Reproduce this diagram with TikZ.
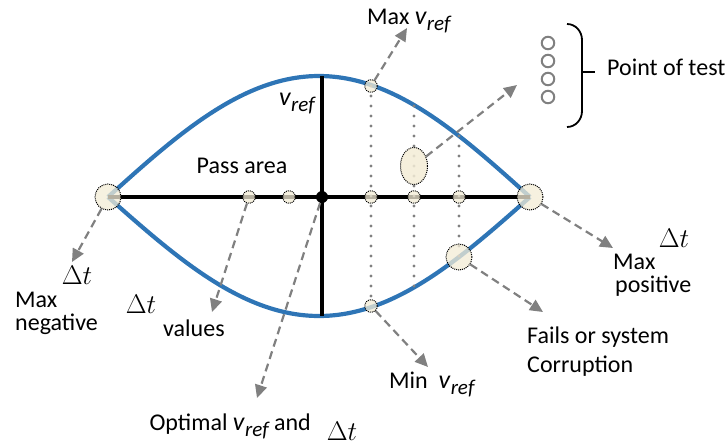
\RequirePackage{fix-cm}
\documentclass[tikz,border=0pt]{standalone}
\usepackage{fontspec}
\setmainfont{Carlito}
\usetikzlibrary{arrows.meta,shapes.geometric}
\definecolor{curveblue}{HTML}{2E75B6}
\definecolor{cream}{HTML}{F3ECD6}
\definecolor{arrgray}{HTML}{808080}
\definecolor{dotgray}{HTML}{808080}
\newcommand\myvref{{\fontsize{26}{28}\selectfont\itshape v}\kern0.5pt{\fontsize{21}{24}\selectfont\itshape\raisebox{-6pt}{ref}}}
\newcommand\mydt{{\fontsize{27}{30}\selectfont$\Delta t$}}
\begin{document}
\begin{tikzpicture}[x=1pt,y=-1pt,
  curve/.style={draw=curveblue,line width=4.2pt},
  axisline/.style={draw=black,line width=3.2pt},
  dots/.style={draw=dotgray,line width=3.2pt,dash pattern=on 0pt off 10pt,line cap=round},
  garrow/.style={draw=arrgray,line width=2.2pt,dash pattern=on 8pt off 5pt,-{Triangle[length=13pt,width=12pt,fill=arrgray]}},
  testpt/.style={circle,draw=black,densely dotted,line width=1pt,fill=cream,fill opacity=0.75,inner sep=0pt},
  smallpt/.style={testpt,minimum size=12.5pt},
  bigpt/.style={testpt,minimum size=26pt},
  ell/.style={ellipse,draw=black,densely dotted,line width=1pt,fill=cream,fill opacity=0.85,inner sep=0pt,minimum width=27pt,minimum height=37pt},
  legendpt/.style={circle,draw=arrgray,line width=2pt,minimum size=12.5pt,inner sep=0pt},
  lbl/.style={font=\fontsize{24}{28}\selectfont,inner sep=0pt},
  lbltwo/.style={font=\fontsize{24}{23}\selectfont,inner sep=0pt,align=left}
]
\useasboundingbox (0,0) rectangle (727,447);

% lens curves
\draw[curve] plot[domain=108:530,samples=100,smooth] (\x,{197-121*sin((\x-108)/422*180)});
\draw[curve] plot[domain=108:530,samples=100,smooth] (\x,{197+119*sin((\x-108)/422*180)});

% axes
\coordinate (hl) at (108,197);
\coordinate (hr) at (530,197);
\coordinate (vt) at (322,76);
\coordinate (vb) at (322,316);
\draw[axisline] (hl) -- (hr);
\draw[axisline] (vt) -- (vb);

% dotted verticals
\coordinate (t1) at (371,86);
\coordinate (b1) at (371,306);
\coordinate (t2) at (414,106);
\coordinate (b2) at (414,288);
\coordinate (t3) at (459,136);
\coordinate (b3) at (459,257);
\draw[dots] (t1) -- (b1);
\draw[dots] (t2) -- (b2);
\draw[dots] (t3) -- (b3);

% test points
\node[bigpt] (L) at (108,197) {};
\node[bigpt] (R) at (530,197) {};
\node[smallpt] (a1) at (249,197) {};
\node[smallpt] (a2) at (289,197) {};
\node[smallpt] (a3) at (371,197) {};
\node[smallpt] (a4) at (414,197) {};
\node[smallpt] (a5) at (459,197) {};
\node[circle,fill=black,minimum size=12pt,inner sep=0pt] (C) at (322,197) {};
\node[smallpt] (U) at (371,86) {};
\node[smallpt] (D) at (371,306) {};
\node[bigpt] (F) at (459,257) {};
\node[ell] (E) at (414,166) {};

% arrow ends
\coordinate (tL) at (72,262);
\coordinate (tA) at (212,312);
\coordinate (tC) at (257,398);
\coordinate (tU) at (407,28);
\coordinate (tE) at (517,85);
\coordinate (tR) at (613,248);
\coordinate (tF) at (543,312);
\coordinate (tD) at (428,367);
\draw[garrow] (L) -- (tL);
\draw[garrow] (a1) -- (tA);
\draw[garrow] (C) -- (tC);
\draw[garrow] (U) -- (tU);
\draw[garrow] (E) -- (tE);
\draw[garrow] (R) -- (tR);
\draw[garrow] (F) -- (tF);
\draw[garrow] (D) -- (tD);

% legend
\node[legendpt] (g1) at (548,43) {};
\node[legendpt] (g2) at (548,61) {};
\node[legendpt] (g3) at (548,79) {};
\node[legendpt] (g4) at (548,97) {};
\coordinate (br1) at (567,24);
\coordinate (br2) at (567,127);
\coordinate (brm) at (582,72);
\coordinate (brt) at (595,72);
\draw[line width=1.8pt] (br1) to[out=0,in=90] (582,40) -- (582,111) to[out=-90,in=0] (br2);
\draw[line width=1.8pt] (brm) -- (brt);
\node[lbl,anchor=base west] (pot) at (607,75) {Point of test};

% labels
\node[lbl,anchor=base west] (maxv) at (367,24) {Max \myvref};
\node[inner sep=0pt] (vax) at (297,104) {\myvref};
\node[lbl] (pass) at (242,166) {Pass area};
\node[inner sep=0pt] (dt1) at (77,275) {\mydt};
\node[lbltwo,anchor=north west] (mn) at (15,292) {Max\\negative};
\node[inner sep=0pt] (dt2) at (141,304) {\mydt};
\node[lbl,anchor=base west] (vals) at (163,336) {values};
\node[lbl,anchor=base east] (opt) at (311,430) {Optimal \myvref\ and};
\node[inner sep=0pt] (dt3) at (342,431) {\mydt};
\node[lbl,anchor=base west] (minv) at (389,388) {Min \ \myvref};
\node[inner sep=0pt] (dt4) at (674,238) {\mydt};
\node[lbltwo,anchor=north west] (mp) at (613,254) {Max\\\hspace*{2pt}positive};
\node[lbl,anchor=base west] (fs1) at (527,343) {Fails or system};
\node[lbl,anchor=base west] (fs2) at (527,372) {Corruption};
\end{tikzpicture}
\end{document}
